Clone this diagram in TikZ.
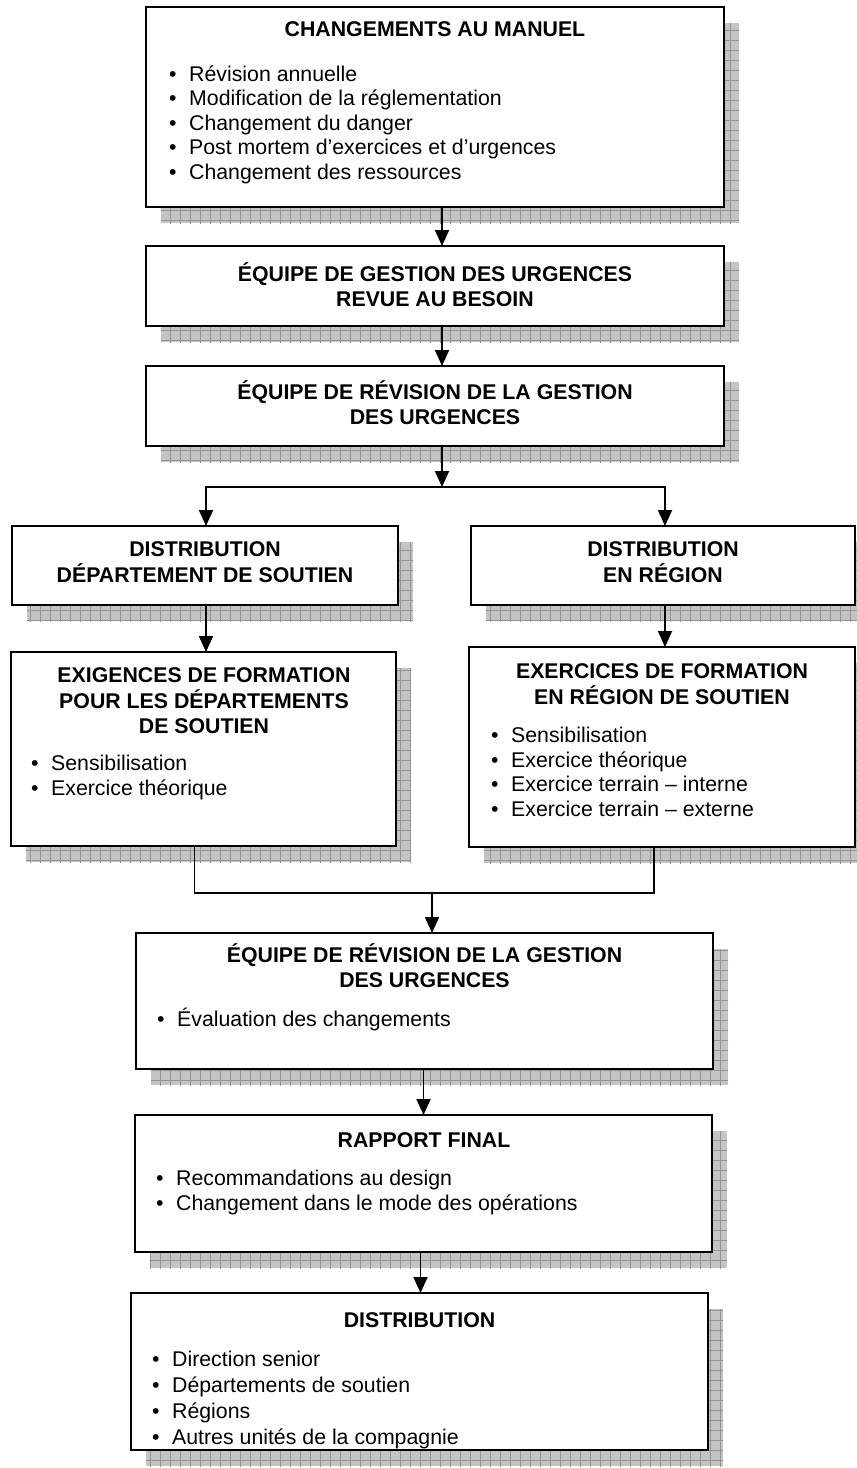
\documentclass[tikz,border=0pt]{standalone}
\usepackage{fontspec}
\setmainfont{Liberation Sans}
\usetikzlibrary{arrows.meta,calc}
\pgfdeclarelayer{bg}
\pgfsetlayers{bg,main}
\definecolor{shfillc}{RGB}{196,196,196}
\definecolor{shlinec}{RGB}{148,148,148}
\newcommand\bul{\makebox[20pt][l]{\textbullet}}
\newcommand\mkbox[5]{%
  \begin{pgfonlayer}{bg}
   \begin{scope}
   \clip (#2+15,#3+16) rectangle (#4+15,#5+16);
   \fill[shfillc] (#2+15,#3+16) rectangle (#4+15,#5+16);
   \draw[shlinec, line width=0.9pt, step=10pt] (0,0) grid (880,1480);
   \end{scope}
  \end{pgfonlayer}
  \node[boxx, minimum width=#4-#2, minimum height=#5-#3] (#1) at ({(#2+#4)/2},{(#3+#5)/2}) {};
}
\tikzset{
 boxx/.style={rectangle, draw=black, line width=2.4pt, fill=white, inner sep=0pt, outer sep=0pt},
 ttl/.style={font=\bfseries\fontsize{21.3pt}{24.5pt}\selectfont, inner sep=0pt, anchor=base},
 itm/.style={font=\fontsize{21.3pt}{24.5pt}\selectfont, inner sep=0pt, anchor=base west},
 conn/.style={line width=1.8pt},
 arr/.style={conn, -{Triangle[width=14pt,length=16pt]}},
}
\begin{document}
\begin{tikzpicture}[x=1pt,y=-1pt]
\useasboundingbox (0,0) rectangle (857,1468);
\clip (0,0) rectangle (857,1468);

% boxes
\mkbox{b1}{146}{7}{724}{207}
\mkbox{b2}{146}{246}{724}{326}
\mkbox{b3}{146}{366}{724}{446}
\mkbox{dl}{12}{526}{398}{605}
\mkbox{dr}{471}{526}{855}{605}
\mkbox{el}{11}{652}{396}{846}
\mkbox{er}{469}{647}{855}{847}
\mkbox{b4}{136}{933}{713}{1069}
\mkbox{b5}{135}{1115}{712}{1252}
\mkbox{b6}{131}{1293}{708}{1450}

% texts
\node[ttl] (b1t) at (435,36.5) {CHANGEMENTS AU MANUEL};
\node[itm] (b1i) at (169,81) {\begin{tabular}[t]{@{}l@{}}
\bul Révision annuelle\\
\bul Modification de la réglementation\\
\bul Changement du danger\\
\bul Post mortem d’exercices et d’urgences\\
\bul Changement des ressources\end{tabular}};

\node[ttl] (b2t) at (435,281.5) {\begin{tabular}[t]{@{}c@{}}ÉQUIPE DE GESTION DES URGENCES\\REVUE AU BESOIN\end{tabular}};
\node[ttl] (b3t) at (435,399.5) {\begin{tabular}[t]{@{}c@{}}ÉQUIPE DE RÉVISION DE LA GESTION\\DES URGENCES\end{tabular}};

\node[ttl] (dlt) at (205,556) {\begin{tabular}[t]{@{}c@{}}DISTRIBUTION\\DÉPARTEMENT DE SOUTIEN\end{tabular}};
\node[ttl] (drt) at (663,556) {\begin{tabular}[t]{@{}c@{}}DISTRIBUTION\\EN RÉGION\end{tabular}};

\node[ttl] (elt) at (204,682.5) {\begin{tabular}[t]{@{}c@{}}EXIGENCES DE FORMATION\\POUR LES DÉPARTEMENTS\\DE SOUTIEN\end{tabular}};
\node[itm] (eli) at (31,770.5) {\begin{tabular}[t]{@{}l@{}}
\bul Sensibilisation\\
\bul Exercice théorique\end{tabular}};

\node[ttl] (ert) at (662,678.5) {\begin{tabular}[t]{@{}c@{}}EXERCICES DE FORMATION\\EN RÉGION DE SOUTIEN\end{tabular}};
\node[itm] (eri) at (491,742.5) {\begin{tabular}[t]{@{}l@{}}
\bul Sensibilisation\\
\bul Exercice théorique\\
\bul Exercice terrain – interne\\
\bul Exercice terrain – externe\end{tabular}};

\node[ttl] (b4t) at (424.5,962.5) {\begin{tabular}[t]{@{}c@{}}ÉQUIPE DE RÉVISION DE LA GESTION\\DES URGENCES\end{tabular}};
\node[itm] (b4i) at (157,1026.5) {\bul Évaluation des changements};

\node[ttl] (b5t) at (424,1147.5) {RAPPORT FINAL};
\node[itm] (b5i) at (156,1185.5) {\begin{tabular}[t]{@{}l@{}}
\bul Recommandations au design\\
\bul Changement dans le mode des opérations\end{tabular}};

\node[ttl] (b6t) at (419.5,1327.5) {DISTRIBUTION};
\begin{scope}
\clip (131,1293) rectangle (708,1448);
\node[itm] (b6i) at (152,1366.5) {\begin{tabular}[t]{@{}l@{}}
\bul Direction senior\\[1.5pt]
\bul Départements de soutien\\[1.5pt]
\bul Régions\\[1.5pt]
\bul Autres unités de la compagnie\end{tabular}};
\end{scope}

% connectors
\coordinate (j1) at (442,487);
\coordinate (j2) at (432,893);
\draw[arr] ([xshift=7pt]b1.south) -- ([xshift=7pt]b2.north);
\draw[arr] ([xshift=7pt]b2.south) -- ([xshift=7pt]b3.north);
\draw[arr] ([xshift=7pt]b3.south) -- (j1);
\draw[arr] (j1) -| ([xshift=1pt]dl.north);
\draw[arr] (j1) -| ([xshift=2pt]dr.north);
\draw[arr] ([xshift=1pt]dl.south) -- ([xshift=1pt]dl.south |- el.north);
\draw[arr] ([xshift=2pt]dr.south) -- ([xshift=2pt]dr.south |- er.north);
\draw[conn] ([xshift=-9pt]el.south) |- (j2) -| ([xshift=-8pt]er.south);
\draw[arr] (j2) -- (j2 |- b4.north);
\draw[arr] ([xshift=-1pt]b4.south) -- ([xshift=-1pt]b4.south |- b5.north);
\draw[arr] ([xshift=-3pt]b5.south) -- ([xshift=-3pt]b5.south |- b6.north);
\end{tikzpicture}
\end{document}
